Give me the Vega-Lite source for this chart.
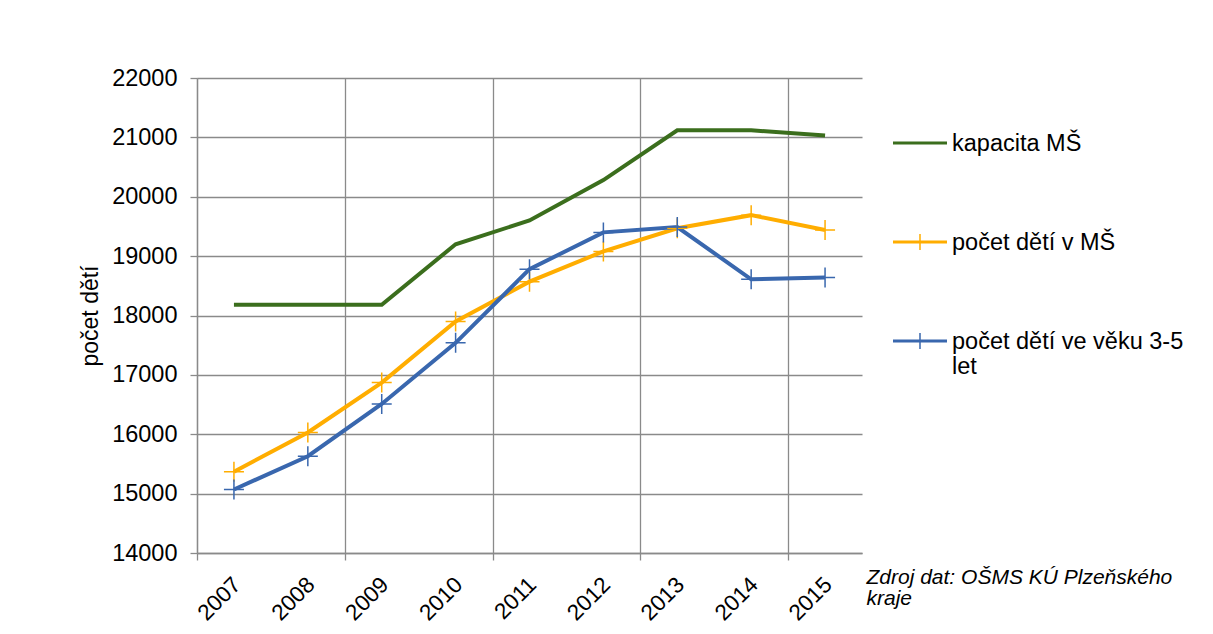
{
  "$schema": "https://vega.github.io/schema/vega-lite/v6.json",
  "width": 665,
  "height": 475,
  "autosize": {"type": "none"},
  "padding": {"left": 197, "top": 78, "right": 351, "bottom": 81},
  "background": "white",
  "config": {
    "view": {"stroke": null},
    "font": "Liberation Sans",
    "axis": {
      "gridColor": "#8a8a8a",
      "gridWidth": 1.3,
      "domainColor": "#8a8a8a",
      "domainWidth": 1.3,
      "tickColor": "#8a8a8a",
      "tickWidth": 1.3,
      "tickSize": 7,
      "labelColor": "#000000",
      "titleColor": "#000000",
      "labelFont": "Liberation Sans",
      "titleFont": "Liberation Sans"
    }
  },
  "data": {
    "values": [
      {"year": 2007, "series": "kapacita MŠ", "value": 18180},
      {"year": 2008, "series": "kapacita MŠ", "value": 18180},
      {"year": 2009, "series": "kapacita MŠ", "value": 18180},
      {"year": 2010, "series": "kapacita MŠ", "value": 19200},
      {"year": 2011, "series": "kapacita MŠ", "value": 19600},
      {"year": 2012, "series": "kapacita MŠ", "value": 20280},
      {"year": 2013, "series": "kapacita MŠ", "value": 21120},
      {"year": 2014, "series": "kapacita MŠ", "value": 21120},
      {"year": 2015, "series": "kapacita MŠ", "value": 21030},
      {"year": 2007, "series": "počet dětí v MŠ", "value": 15370},
      {"year": 2008, "series": "počet dětí v MŠ", "value": 16030},
      {"year": 2009, "series": "počet dětí v MŠ", "value": 16870},
      {"year": 2010, "series": "počet dětí v MŠ", "value": 17900},
      {"year": 2011, "series": "počet dětí v MŠ", "value": 18570},
      {"year": 2012, "series": "počet dětí v MŠ", "value": 19080},
      {"year": 2013, "series": "počet dětí v MŠ", "value": 19470},
      {"year": 2014, "series": "počet dětí v MŠ", "value": 19690},
      {"year": 2015, "series": "počet dětí v MŠ", "value": 19440},
      {"year": 2007, "series": "počet dětí ve věku 3-5 let", "value": 15070},
      {"year": 2008, "series": "počet dětí ve věku 3-5 let", "value": 15630},
      {"year": 2009, "series": "počet dětí ve věku 3-5 let", "value": 16510},
      {"year": 2010, "series": "počet dětí ve věku 3-5 let", "value": 17540},
      {"year": 2011, "series": "počet dětí ve věku 3-5 let", "value": 18780},
      {"year": 2012, "series": "počet dětí ve věku 3-5 let", "value": 19400},
      {"year": 2013, "series": "počet dětí ve věku 3-5 let", "value": 19490},
      {"year": 2014, "series": "počet dětí ve věku 3-5 let", "value": 18610},
      {"year": 2015, "series": "počet dětí ve věku 3-5 let", "value": 18640}
    ]
  },
  "encoding": {
    "x": {
      "field": "year",
      "type": "quantitative",
      "scale": {"domain": [2006.5, 2015.5], "nice": false, "zero": false},
      "axis": {
        "values": [2006.5, 2007, 2008, 2008.5, 2009, 2010, 2010.5, 2011, 2012, 2012.5, 2013, 2014, 2014.5, 2015],
        "labelExpr": "datum.value % 1 == 0 ? '' + datum.value : ''",
        "labelAngle": -45,
        "labelFontSize": 22.5,
        "labelOverlap": false,
        "labelFlush": false,
        "labelBound": false,
        "labelPadding": 13,
        "labelOffset": -5,
        "tickOpacity": {"condition": {"test": "datum.value % 2 == 0.5", "value": 1}, "value": 0},
        "gridOpacity": {"condition": {"test": "datum.value % 2 == 0.5", "value": 1}, "value": 0},
        "title": ["Zdroj dat: OŠMS KÚ Plzeňského", "kraje"],
        "titleFontSize": 21,
        "titleFontStyle": "italic",
        "titleFontWeight": "normal",
        "titleAlign": "left",
        "titleBaseline": "alphabetic",
        "titleX": 669,
        "titleY": 30,
        "titleLineHeight": 21
      }
    },
    "y": {
      "field": "value",
      "type": "quantitative",
      "scale": {"domain": [14000, 22000], "nice": false, "zero": false},
      "axis": {
        "values": [14000, 15000, 16000, 17000, 18000, 19000, 20000, 21000, 22000],
        "format": "d",
        "labelFontSize": 23.5,
        "labelPadding": 13,
        "title": "počet dětí",
        "titleFontSize": 23,
        "titleFontWeight": "normal",
        "titleX": -95,
        "titleBaseline": "bottom"
      }
    },
    "color": {
      "field": "series",
      "type": "nominal",
      "scale": {
        "domain": ["kapacita MŠ", "počet dětí v MŠ", "počet dětí ve věku 3-5 let"],
        "range": ["#3b6e1d", "#ffad00", "#3967ae"]
      },
      "legend": {
        "title": null,
        "orient": "none",
        "legendX": 696,
        "legendY": 38,
        "padding": 0,
        "symbolSize": 2916,
        "symbolStrokeWidth": 0,
        "rowPadding": 59,
        "labelFontSize": 23.5,
        "labelFont": "Liberation Sans",
        "labelColor": "#000000",
        "labelOffset": 5,
        "labelLimit": 500,
        "labelBaseline": "alphabetic",
        "labelExpr": "datum.label == 'počet dětí ve věku 3-5 let' ? ['počet dětí ve věku 3-5', 'let'] : datum.label",
        "encode": {
          "symbols": {
            "update": {
              "shape": [
                {"test": "datum.value == 'kapacita MŠ'", "value": "M-1,-0.055H1V0.055H-1Z"},
                {"value": "M-1,-0.055H1V0.055H-1ZM-0.028,-0.3H0.028V0.3H-0.028Z"}
              ],
              "fill": [
                {"test": "datum.value == 'kapacita MŠ'", "value": "#3b6e1d"},
                {"test": "datum.value == 'počet dětí v MŠ'", "value": "#ffad00"},
                {"value": "#3967ae"}
              ],
              "stroke": {"value": "transparent"},
              "strokeWidth": {"value": 0},
              "opacity": {"value": 1}
            }
          },
          "labels": {
            "update": {
              "dy": {"value": 8},
              "lineHeight": {"value": 25}
            }
          }
        }
      }
    }
  },
  "layer": [
    {"mark": {"type": "line", "strokeWidth": 4}},
    {
      "transform": [{"filter": "datum.series != 'kapacita MŠ'"}],
      "mark": {"type": "point", "shape": "M-1,0H1M0,-1V1", "size": 400, "filled": false, "strokeWidth": 1.5, "opacity": 1},
      "encoding": {
        "color": {"field": "series", "type": "nominal", "legend": null}
      }
    }
  ]
}
